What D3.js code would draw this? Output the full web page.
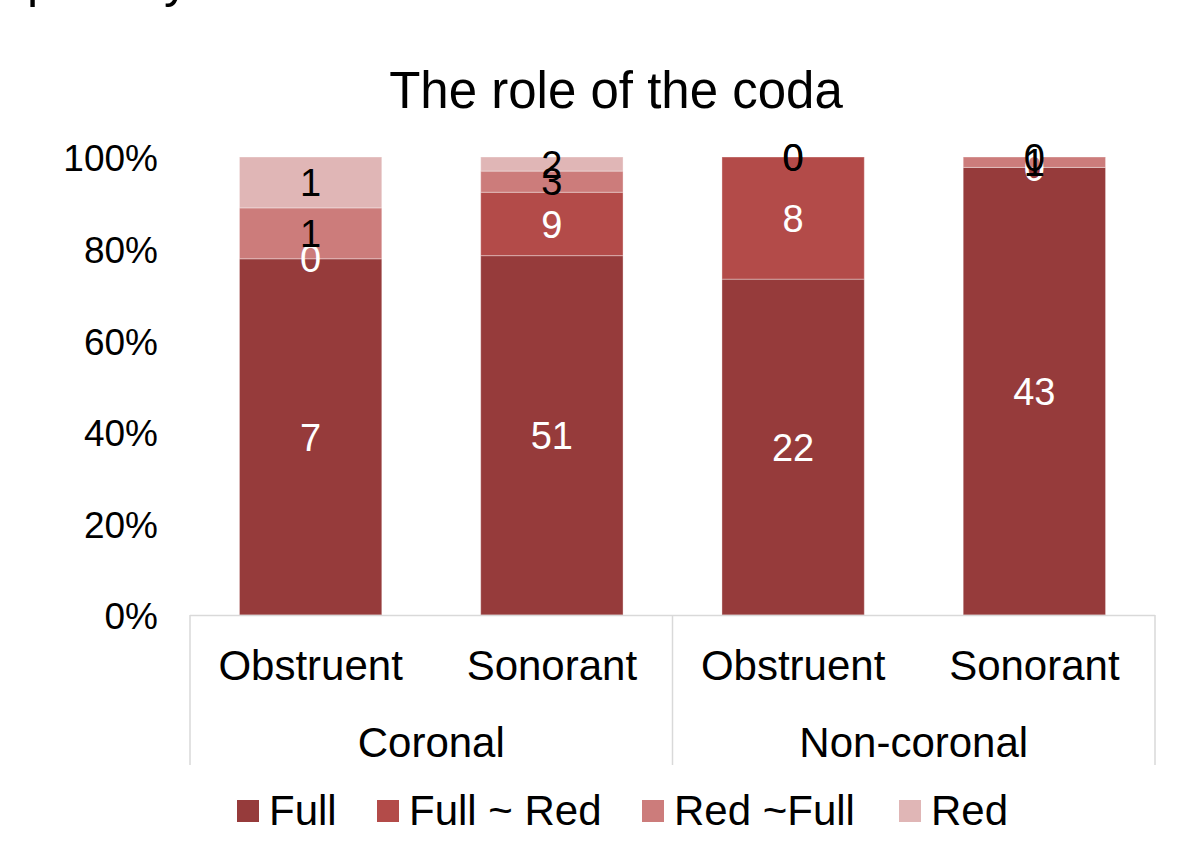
<!DOCTYPE html>
<html>
<head>
<meta charset="utf-8">
<script src="https://cdn.jsdelivr.net/npm/d3@7"></script>
<style>
  body { margin: 0; background: #fff; }
  svg text { font-family: "Liberation Sans", Arial, sans-serif; }
</style>
</head>
<body>
<div id="chart"></div>
<script>
const width = 1178, height = 863;

// data
const groups = ["Coronal", "Coronal", "Non-coronal", "Non-coronal"];
const manners = ["Obstruent", "Sonorant", "Obstruent", "Sonorant"];
const seriesNames = ["Full", "Full ~ Red", "Red ~Full", "Red"];
const full = [7, 51, 22, 43];
const fullRed = [0, 9, 8, 0];
const redFull = [1, 3, 0, 1];
const red = [1, 2, 0, 0];
const colors = ["#963b3b", "#b34b49", "#cc7c7b", "#e0b6b6"];
const labelColors = ["#fff", "#fff", "#000", "#000"];
const yTicks = [0, 0.2, 0.4, 0.6, 0.8, 1];

const rows = manners.map((m, i) => ({
  key: i, group: groups[i], manner: m,
  s0: full[i], s1: fullRed[i], s2: redFull[i], s3: red[i]
}));

const svg = d3.select("#chart").append("svg")
  .attr("width", width).attr("height", height);

const margin = { left: 190, right: 1155, top: 157, bottom: 615 };

const x = d3.scaleBand()
  .domain(rows.map(d => d.key))
  .range([margin.left, margin.right])
  .paddingInner(0.41).paddingOuter(0.205);

const y = d3.scaleLinear().domain([0, 1]).range([margin.bottom, margin.top]);

const stack = d3.stack().keys(["s0", "s1", "s2", "s3"]).offset(d3.stackOffsetExpand);
const layers = stack(rows);

// cropped heading from the slide above
svg.append("text").attr("x", 27).attr("y", -3).attr("font-size", 50).text("p");
svg.append("text").attr("x", 164).attr("y", -3).attr("font-size", 50).text("y");

// title
svg.append("text")
  .attr("x", 616).attr("y", 108)
  .attr("text-anchor", "middle")
  .attr("font-size", 51)
  .text("The role of the coda");

// y axis labels
const yAxis = d3.axisLeft(y).tickValues(yTicks).tickFormat(d3.format(".0%")).tickSize(0).tickPadding(32);
const yg = svg.append("g").attr("transform", `translate(${margin.left},2)`).call(yAxis);
yg.select(".domain").remove();
yg.selectAll("text").attr("font-size", 37).attr("fill", "#000").attr("font-family", "Liberation Sans, Arial, sans-serif");

// bars
const layerG = svg.selectAll("g.layer").data(layers).enter().append("g")
  .attr("class", "layer")
  .attr("fill", (d, i) => colors[i]);

layerG.selectAll("rect").data(d => d).enter().append("rect")
  .attr("x", d => x(d.data.key))
  .attr("width", x.bandwidth())
  .attr("y", d => y(d[1]))
  .attr("height", d => y(d[0]) - y(d[1]))
  .attr("stroke", "rgba(255,255,255,0.35)")
  .attr("stroke-width", 1);

// data labels
layers.forEach((layer, i) => {
  svg.append("g").selectAll("text").data(layer).enter().append("text")
    .attr("x", d => x(d.data.key) + x.bandwidth() / 2)
    .attr("y", d => y((d[0] + d[1]) / 2))
    .attr("dy", "0.36em")
    .attr("text-anchor", "middle")
    .attr("font-size", 38)
    .attr("fill", labelColors[i])
    .text(d => d.data["s" + i]);
});

// category axis box
const axisCol = "#d9d9d9";
const boxBottom = 765;
svg.append("line")
  .attr("x1", margin.left).attr("x2", margin.right)
  .attr("y1", margin.bottom + 0.5).attr("y2", margin.bottom + 0.5)
  .attr("stroke", axisCol).attr("stroke-width", 1.5);

const groupNames = Array.from(new Set(groups));
const groupExtent = groupNames.map(g => {
  const ks = rows.filter(r => r.group === g).map(r => r.key);
  const step = x.step();
  const x0 = x(ks[0]) - x.paddingOuter() * step;
  const x1 = x(ks[ks.length - 1]) + x.bandwidth() + x.paddingOuter() * step;
  return { g, x0, x1 };
});
const dividers = [margin.left].concat(groupExtent.map(e => e.x1));
svg.selectAll("line.div").data(dividers).enter().append("line")
  .attr("class", "div")
  .attr("x1", d => Math.min(d, margin.right)).attr("x2", d => Math.min(d, margin.right))
  .attr("y1", margin.bottom).attr("y2", boxBottom)
  .attr("stroke", axisCol).attr("stroke-width", 1.5);

svg.selectAll("text.manner").data(rows).enter().append("text")
  .attr("class", "manner")
  .attr("x", d => x(d.key) + x.bandwidth() / 2)
  .attr("y", 680)
  .attr("text-anchor", "middle")
  .attr("font-size", 42)
  .text(d => d.manner);

svg.selectAll("text.group").data(groupExtent).enter().append("text")
  .attr("class", "group")
  .attr("x", d => (d.x0 + Math.min(d.x1, margin.right)) / 2)
  .attr("y", 757)
  .attr("text-anchor", "middle")
  .attr("font-size", 42)
  .text(d => d.g);

// legend
const legendX = [237, 377, 642, 899];
const legend = svg.append("g");
seriesNames.forEach((name, i) => {
  legend.append("rect")
    .attr("x", legendX[i]).attr("y", 800)
    .attr("width", 22).attr("height", 22)
    .attr("fill", colors[i]);
  legend.append("text")
    .attr("x", legendX[i] + 32).attr("y", 825)
    .attr("font-size", 42)
    .text(name);
});
</script>
</body>
</html>
